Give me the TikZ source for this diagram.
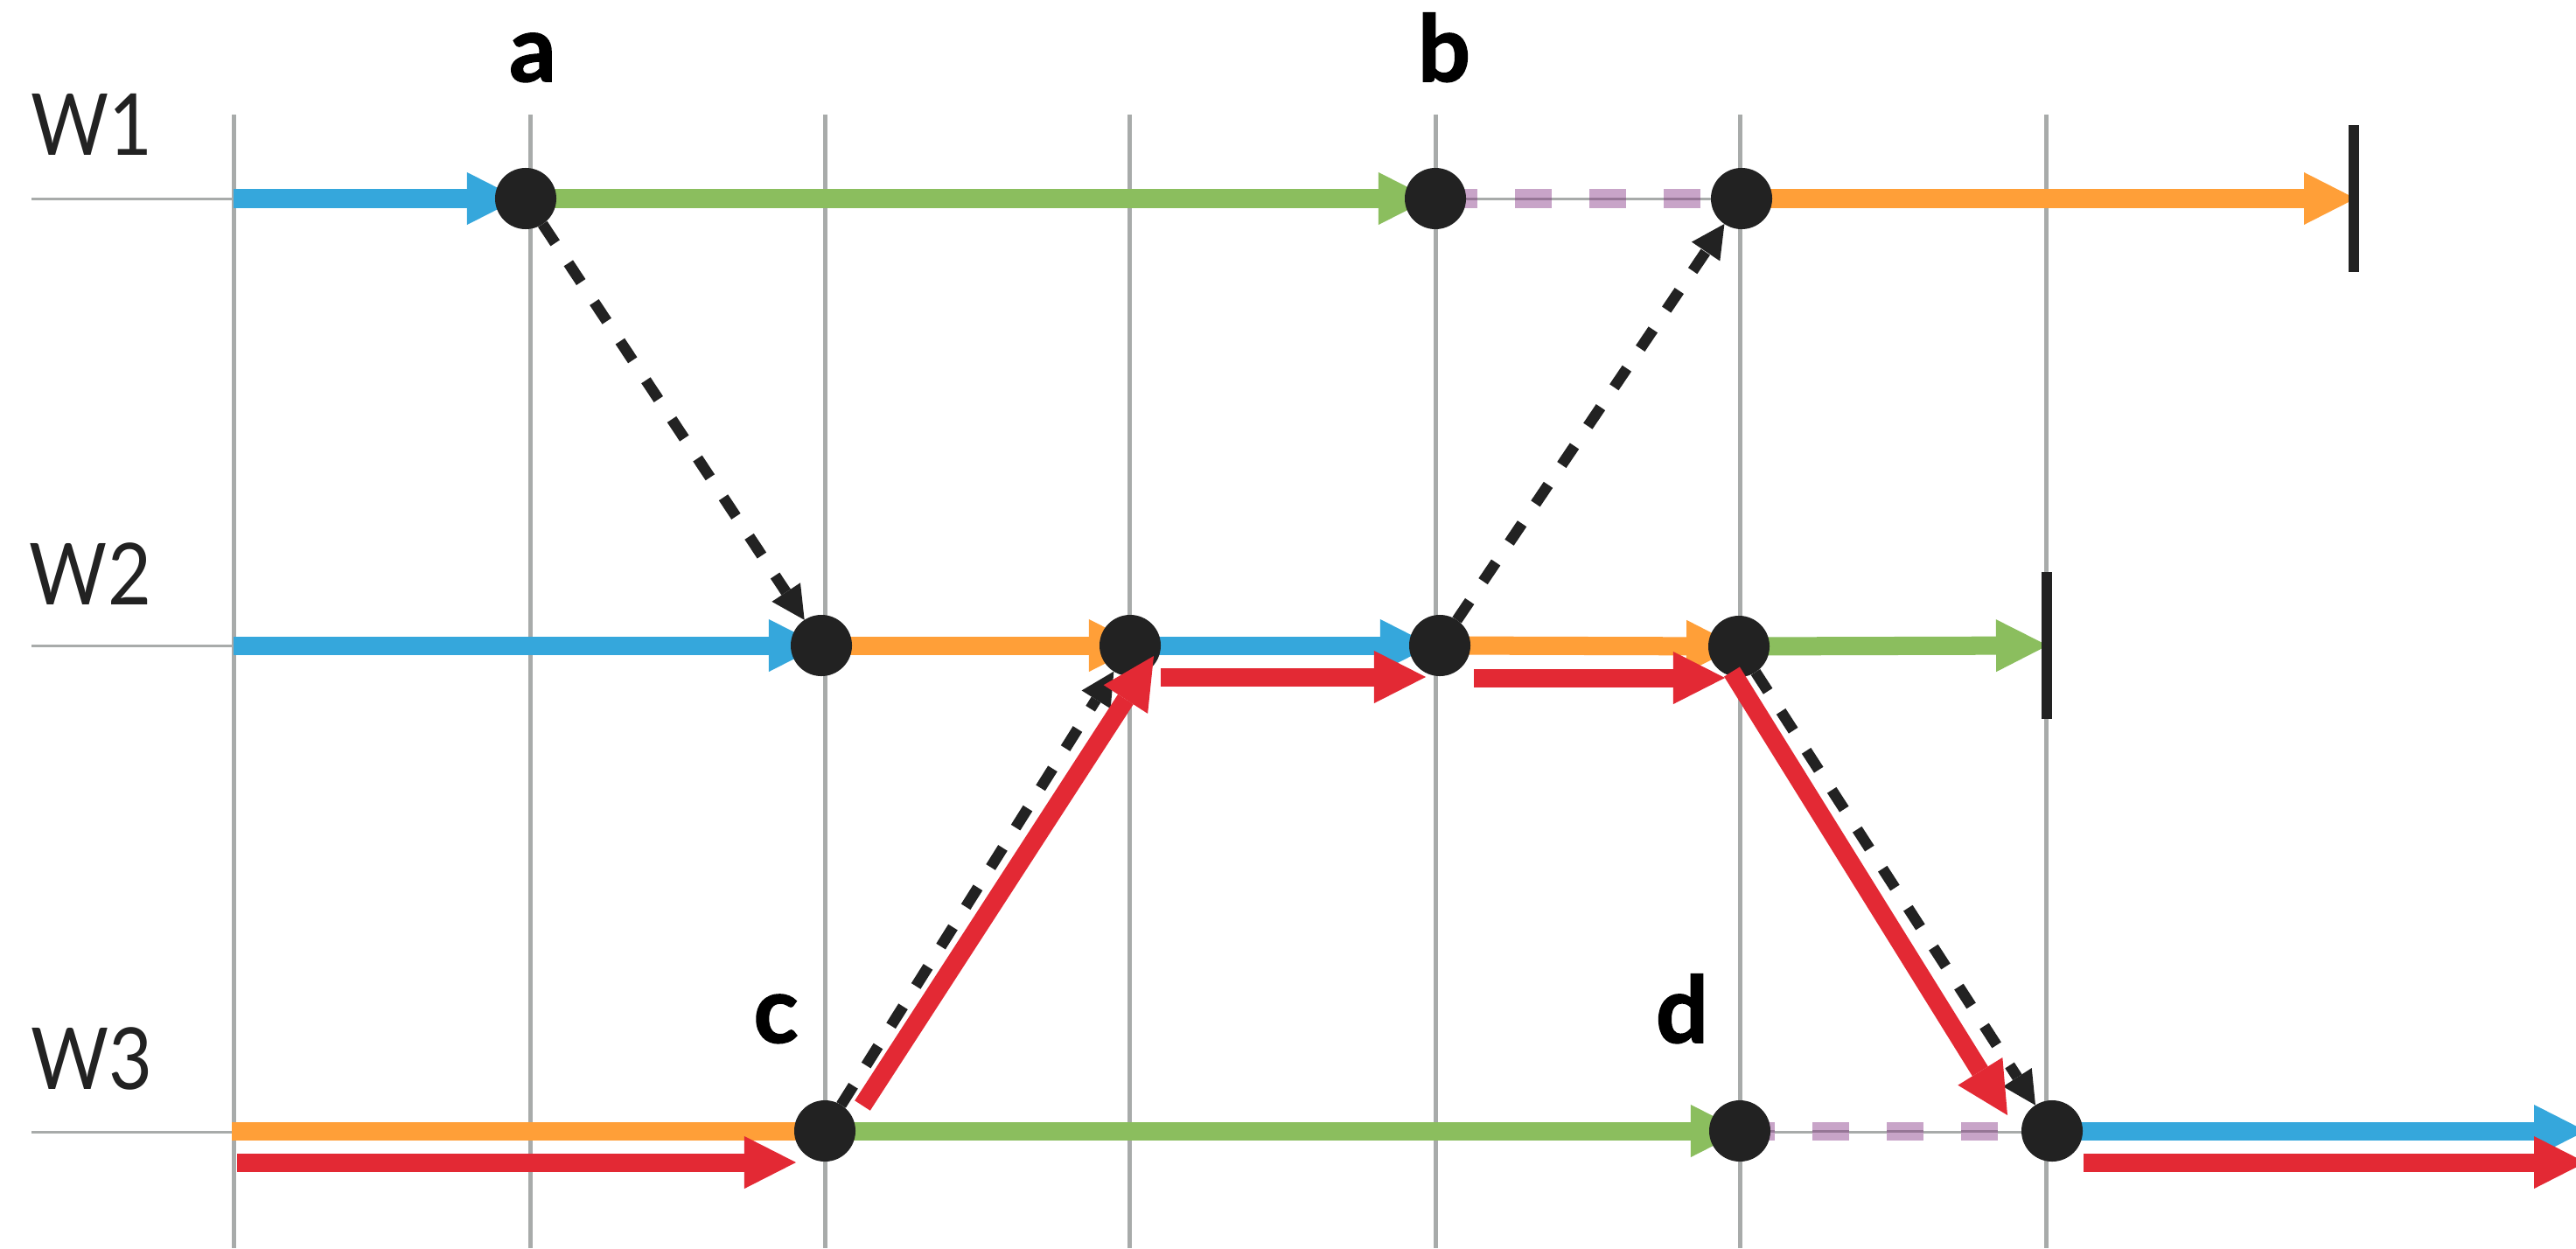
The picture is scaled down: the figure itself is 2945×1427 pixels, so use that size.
\documentclass[tikz,border=0pt]{standalone}
\usepackage{fontspec}
\setmainfont{Lato}
\usetikzlibrary{arrows.meta}
\pgfdeclarelayer{grid}
\pgfdeclarelayer{lines}
\pgfdeclarelayer{front}
\pgfsetlayers{grid,lines,main,front}
\definecolor{gridgray}{RGB}{168,171,170}
\definecolor{cblue}{RGB}{53,167,220}
\definecolor{cgreen}{RGB}{139,190,94}
\definecolor{corange}{RGB}{255,159,56}
\definecolor{cred}{RGB}{227,41,52}
\definecolor{cpurple}{RGB}{200,164,200}
\definecolor{cpurpledark}{RGB}{150,118,150}
\definecolor{cdark}{RGB}{34,34,34}
\begin{document}
\begin{tikzpicture}[x=0.01cm, y=-0.01cm,
  dot/.style={circle, fill=cdark, minimum size=0.7cm, inner sep=0pt, outer sep=0pt},
  endbar/.style={rectangle, fill=cdark, minimum width=0.12cm, minimum height=1.67cm, inner sep=0pt, outer sep=0pt},
  flow/.style={line width=0.21cm, -{Triangle[length=0.59cm, width=0.6cm, line width=0pt]}},
  flowplain/.style={line width=0.21cm},
  msg/.style={draw=cdark, line width=0.125cm, dash pattern=on 0.26cm off 0.275cm, -{Triangle[length=0.38cm, width=0.39cm, line width=0pt]}},
  purp/.style={cpurple, line width=0.21cm, dash pattern=on 0.42cm off 0.43cm},
  purpline/.style={cpurpledark, line width=0.03cm, dash pattern=on 0.42cm off 0.43cm},
  gridline/.style={gridgray, line width=0.05cm},
  rowline/.style={gridgray, line width=0.03cm},
  wlab/.style={text=cdark, inner sep=0pt, outer sep=0pt, anchor=base west, font=\fontsize{27.8pt}{30pt}\selectfont},
  plab/.style={text=black, inner sep=0pt, outer sep=0pt, anchor=base, font=\fontsize{30pt}{32pt}\selectfont\bfseries\addfontfeatures{FakeBold=1.6}},
]
\useasboundingbox (0,0) rectangle (2945,1427);

% dots and end bars
\node[dot] (a) at (601,227) {};
\node[dot] (b) at (1641,227) {};
\node[dot] (bb) at (1991,227) {};
\node[dot] (p1) at (939,738) {};
\node[dot] (p2) at (1292,738) {};
\node[dot] (p3) at (1646,738) {};
\node[dot] (p4) at (1988,739) {};
\node[dot] (c) at (943,1293) {};
\node[dot] (d) at (1989,1293) {};
\node[dot] (e) at (2346,1293) {};
\node[endbar] (end1) at (2691,227) {};
\node[endbar] (end2) at (2340,738) {};

\coordinate (s1) at (267,227);
\coordinate (s2) at (267,738);
\coordinate (s3) at (265,1293);
\coordinate (s3r) at (271,1329);
\coordinate (o3b) at (2956,1293);
\coordinate (o3r) at (2956,1329);

\begin{pgfonlayer}{grid}
  \fill[white] (0,0) rectangle (2945,1427);
  \foreach \gx in {267,606,943,1291,1641,1989,2339}
    \draw[gridline] (\gx,131) -- (\gx,1427);
  \foreach \gy in {227,738,1294}
    \draw[rowline] (36,\gy) -- (2339,\gy);
\end{pgfonlayer}

\begin{pgfonlayer}{lines}
  % W1
  \draw[flow,cblue] (s1) -- ([xshift=-0.08cm]a.center);
  \draw[flow,cgreen] (a.center) -- ([xshift=-0.06cm]b.center);
  \draw[purp, dash phase=0.79cm] (b.center) -- (bb.center);
  \draw[purpline, dash phase=0.79cm] (b.center) -- (bb.center);
  \draw[flow,corange] (bb.center) -- ([xshift=0.02cm]end1.center);
  % W2
  \draw[flow,cblue] (s2) -- ([xshift=-0.01cm]p1.center);
  \draw[flow,corange] (p1.center) -- ([xshift=0.12cm]p2.center);
  \draw[flow,cblue] (p2.center) -- ([xshift=-0.09cm]p3.center);
  \draw[flow,corange] (p3.center) -- ([xshift=-0.01cm]p4.center);
  \draw[flow,cgreen] (p4.center) -- ([xshift=0.01cm]end2.center);
  % W3
  \draw[flowplain,corange] (s3) -- (c.center);
  \draw[flow,cgreen] (c.center) -- ([xshift=0.03cm]d.center);
  \draw[purp, dash phase=0.02cm] (d.center) -- (e.center);
  \draw[purpline, dash phase=0.02cm] (d.center) -- (e.center);
  \draw[flow,cblue] (e.center) -- (o3b);
  % dashed messages
  \draw[msg] (a) -- (p1);
  \draw[msg] (p3) -- (bb);
  \draw[msg] (c) -- (p2);
  \draw[msg] (p4) -- (e);
\end{pgfonlayer}

\begin{pgfonlayer}{front}
  \draw[flow,cred] (s3r) -- ([shift={(-33,36)}]c.center);
  \draw[flow,cred] ([shift={(43,-29)}]c.center) -- ([shift={(27,12)}]p2.center);
  \draw[flow,cred] ([shift={(35,36)}]p2.center) -- ([shift={(-16,36)}]p3.center);
  \draw[flow,cred] ([shift={(39,37)}]p3.center) -- ([shift={(-16,36)}]p4.center);
  \draw[flow,cred] ([shift={(-8,29)}]p4.center) -- ([shift={(-51,-18)}]e.center);
  \draw[flow,cred] ([shift={(36,36)}]e.center) -- (o3r);

  \node[wlab] (w1) at (35,177) {\scalebox{0.88}[1]{W1}};
  \node[wlab] (w2) at (34,691) {\scalebox{0.88}[1]{W2}};
  \node[wlab] (w3) at (35,1245) {\scalebox{0.88}[1]{W3}};
  \node[plab] (la) at (609,93) {a};
  \node[plab] (lb) at (1651,93) {b};
  \node[plab] (lc) at (887,1192) {c};
  \node[plab] (ld) at (1923,1192) {d};
\end{pgfonlayer}
\end{tikzpicture}
\end{document}
